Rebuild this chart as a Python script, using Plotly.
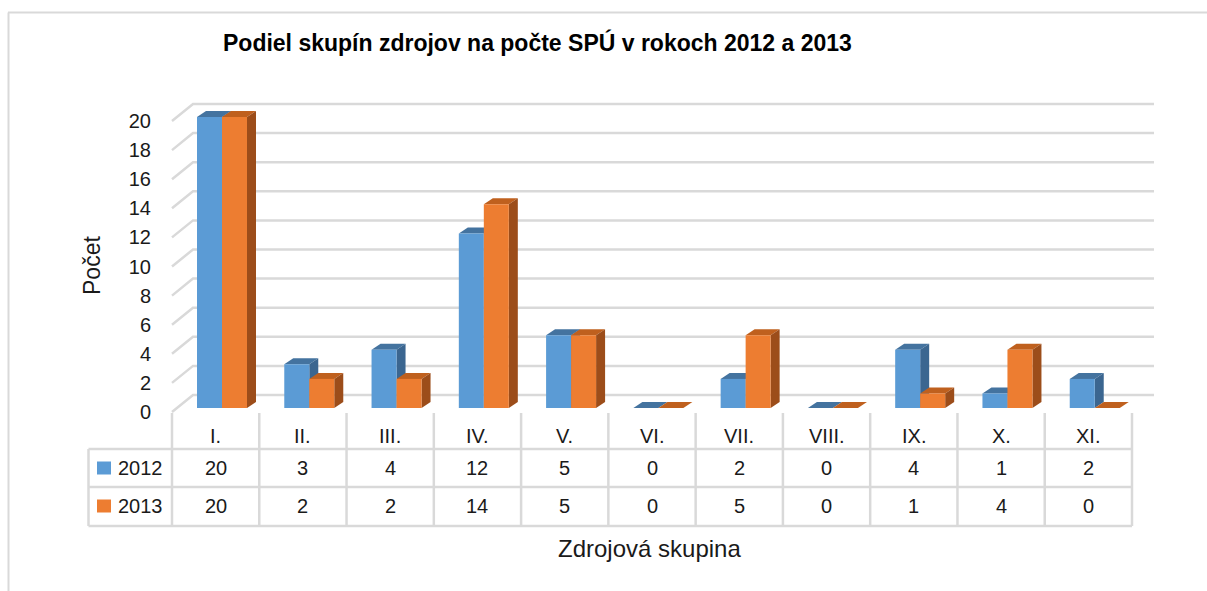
import plotly.graph_objects as go

# ---------------- data ----------------
categories = ["I.", "II.", "III.", "IV.", "V.", "VI.", "VII.", "VIII.", "IX.", "X.", "XI."]
values_2012 = [20, 3, 4, 12, 5, 0, 2, 0, 4, 1, 2]
values_2013 = [20, 2, 2, 14, 5, 0, 5, 0, 1, 4, 0]
series_names = ["2012", "2013"]
y_ticks = list(range(0, 21, 2))
title_text = "Podiel skupín zdrojov na počte SPÚ v rokoch 2012 a 2013"
y_title = "Počet"
x_title = "Zdrojová skupina"

# ---------------- geometry (pixels) ----------------
W, H = 1207, 591
PL, PR, PT, PB = 160, 1165, 95, 415          # plot area
CAT_W = 960 / 11                              # px per category
X0_PX = 172                                   # front-left floor edge
Y0_PX = 408                                   # bar base
PX_UNIT = 14.55                               # px per value unit

def xd(px):
    return -0.5 + (px - X0_PX) / CAT_W

def yd(py):
    return (Y0_PX - py) / PX_UNIT

def xp(px):
    return (px - PL) / (PR - PL)

def yp(py):
    return (PB - py) / (PB - PT)

DX = 9 / CAT_W          # bar depth (x)
DY = 6 / PX_UNIT        # bar depth (y)
BW = 25 / CAT_W         # bar width
OFF1 = (197 - (X0_PX + CAT_W / 2)) / CAT_W
OFF2 = OFF1 + BW

WX = 21 / CAT_W         # wall depth
WY = 13 / PX_UNIT
FY = -4 / PX_UNIT
WALL_RIGHT = xd(1154)

FONT = "Liberation Sans"
TXT = "#1a1a1a"
GRID = "#d9d9d9"

colors = {
    "2012": ("#5b9bd5", "#44739f", "#3b6690"),
    "2013": ("#ed7d31", "#bf601e", "#9c4d1a"),
}

fig = go.Figure()
shapes = []

# back wall gridlines + left wall diagonals
for v in y_ticks:
    path = (f"M {-0.5},{v + FY} L {-0.5 + WX},{v + WY} "
            f"L {WALL_RIGHT},{v + WY}")
    shapes.append(dict(type="path", path=path, xref="x", yref="y", layer="below",
                       line=dict(color=GRID, width=2.5)))

# 3D faces
for name, vals, off in [("2012", values_2012, OFF1), ("2013", values_2013, OFF2)]:
    front, top, side = colors[name]
    for i, v in enumerate(vals):
        x0 = i + off
        x1 = x0 + BW
        top_path = (f"M {x0},{v} L {x1},{v} L {x1 + DX},{v + DY} "
                    f"L {x0 + DX},{v + DY} Z")
        side_path = (f"M {x1},0 L {x1},{v} L {x1 + DX},{v + DY} "
                     f"L {x1 + DX},{DY} Z")
        shapes.append(dict(type="path", path=top_path, xref="x", yref="y", layer="below",
                           fillcolor=top, line=dict(width=0)))
        shapes.append(dict(type="path", path=side_path, xref="x", yref="y", layer="below",
                           fillcolor=side, line=dict(width=0)))

# front faces
for name, vals, off in [("2012", values_2012, OFF1), ("2013", values_2013, OFF2)]:
    fig.add_trace(go.Bar(
        x=list(range(len(categories))), y=vals, base=0, width=BW, offset=off,
        name=name, marker=dict(color=colors[name][0], line=dict(width=0)),
        showlegend=False, hoverinfo="skip"))

# ---------------- data table ----------------
TBL_TOP_HDR = 413
ROW_LINES = [449, 487, 526]
TBL_LEFT = 88.5
n = len(categories)
for k in range(n + 1):
    xpx = X0_PX + k * CAT_W
    shapes.append(dict(type="line", xref="paper", yref="paper",
                       x0=xp(xpx), x1=xp(xpx), y0=yp(TBL_TOP_HDR), y1=yp(ROW_LINES[-1]),
                       line=dict(color=GRID, width=2.5)))
shapes.append(dict(type="line", xref="paper", yref="paper",
                   x0=xp(TBL_LEFT), x1=xp(TBL_LEFT), y0=yp(ROW_LINES[0]), y1=yp(ROW_LINES[-1]),
                   line=dict(color=GRID, width=2.5)))
for ry in ROW_LINES:
    shapes.append(dict(type="line", xref="paper", yref="paper",
                       x0=xp(TBL_LEFT), x1=xp(X0_PX + n * CAT_W), y0=yp(ry), y1=yp(ry),
                       line=dict(color=GRID, width=2.5)))

def note(x, y, text, size=20, xref="paper", xanchor="center", **kw):
    return dict(x=x, xref=xref, y=y, yref="paper", text=text, showarrow=False,
                xanchor=xanchor, yanchor="middle",
                font=dict(family=FONT, size=size, color=kw.pop("color", TXT)), **kw)

annotations = []
for i, c in enumerate(categories):
    annotations.append(note(i, yp(436), c, xref="x"))
row_y = [468, 506]
for r, (name, vals) in enumerate([("2012", values_2012), ("2013", values_2013)]):
    for i, v in enumerate(vals):
        annotations.append(note(i, yp(row_y[r]), str(v), xref="x"))
    annotations.append(note(xp(116), yp(row_y[r]), name, xanchor="left"))
    shapes.append(dict(type="rect", xref="paper", yref="paper",
                       x0=xp(97), x1=xp(111), y0=yp(row_y[r] - 6.5), y1=yp(row_y[r] + 6.5),
                       fillcolor=colors[name][0], line=dict(width=0)))

# titles
annotations.append(note(xp(537), yp(42), f"<b>{title_text}</b>", size=23, color="#000000"))
annotations.append(note(xp(92), yp(266), y_title, size=23, textangle=-90))
annotations.append(note(xp(649), yp(548), x_title, size=24))

# chart border
shapes.append(dict(type="line", xref="paper", yref="paper",
                   x0=xp(8), x1=xp(1210), y0=yp(12.5), y1=yp(12.5),
                   line=dict(color=GRID, width=2)))
shapes.append(dict(type="line", xref="paper", yref="paper",
                   x0=xp(8.5), x1=xp(8.5), y0=yp(12.5), y1=yp(595),
                   line=dict(color=GRID, width=2)))

fig.update_layout(
    width=W, height=H,
    margin=dict(l=PL, r=W - PR, t=PT, b=H - PB, autoexpand=False),
    paper_bgcolor="white", plot_bgcolor="rgba(0,0,0,0)",
    barmode="overlay",
    shapes=shapes, annotations=annotations,
    xaxis=dict(range=[xd(PL), xd(PR)], visible=False, fixedrange=True),
    yaxis=dict(range=[yd(PB), yd(PT)], tickvals=y_ticks, ticktext=[str(t) for t in y_ticks],
               showgrid=False, zeroline=False, showline=False, ticks="",
               ticklabelstandoff=8, ticklabelshift=4,
               tickfont=dict(family=FONT, size=20, color=TXT), fixedrange=True),
)

fig.write_html("out.html", config={"displayModeBar": False},
               post_script="document.body.style.margin='0px';document.body.style.overflow='hidden';")
